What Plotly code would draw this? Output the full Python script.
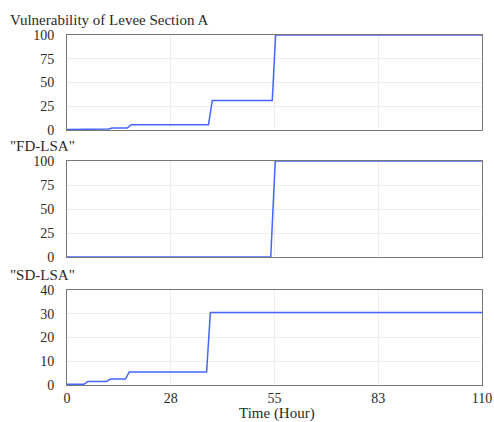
import plotly.graph_objects as go

# Vulnerability of Levee Section A
t_vuln = [0, 5, 6, 11, 12, 16, 17, 37.5, 38.5, 54.4, 55.3, 110]
v_vuln = [0.5, 0.5, 1, 1, 2, 2, 5.5, 5.5, 31, 31, 100, 100]
# "FD-LSA"
t_fd = [0, 54, 55.2, 110]
v_fd = [0, 0, 100, 100]
# "SD-LSA"
t_sd = [0, 4.5, 5.5, 10.5, 11.5, 15.5, 16.5, 37, 38, 110]
v_sd = [0.3, 0.3, 1.5, 1.5, 2.5, 2.5, 5.5, 5.5, 30.5, 30.5]

titles = ["Vulnerability of Levee Section A", "\"FD-LSA\"", "\"SD-LSA\""]
x_title = "Time (Hour)"
x_tickvals = [0, 27.5, 55, 82.5, 110]
x_ticktext = ["0", "28", "55", "83", "110"]
y_ticks_top = [0, 25, 50, 75, 100]
y_ticks_sd = [0, 10, 20, 30, 40]

W, H = 494, 422
font = "Liberation Serif, Times New Roman, serif"
line_color = "#4466ff"
txt = "#2a2a2a"


def px(x):
    return x / W


def py(y):
    return 1 - y / H


fig = go.Figure()
panels = [
    (t_vuln, v_vuln, (35, 130), [0, 100], y_ticks_top),
    (t_fd, v_fd, (161, 257), [0, 100], y_ticks_top),
    (t_sd, v_sd, (290, 385), [0, 40], y_ticks_sd),
]
xdom = [px(67), px(482)]
for i, (t, v, (top, bot), yr, yt) in enumerate(panels):
    n = "" if i == 0 else str(i + 1)
    fig.add_trace(go.Scatter(x=t, y=v, mode="lines", line=dict(color=line_color, width=1.5),
                             xaxis="x" + n, yaxis="y" + n, showlegend=False))
    ydom = [py(bot), py(top)]
    fig.update_layout(**{
        "xaxis" + n: dict(domain=xdom, range=[0, 110], anchor="y" + n, automargin=False,
                          tickvals=x_tickvals, ticktext=x_ticktext, ticklabeloverflow="allow",
                          showticklabels=(i == 2), showgrid=True, gridcolor="#ededed",
                          showline=True, mirror=True, linecolor="#777", linewidth=1,
                          zeroline=False, ticks="",
                          tickfont=dict(family=font, size=14, color=txt)),
        "yaxis" + n: dict(domain=ydom, range=yr, anchor="x" + n, tickvals=yt, automargin=False,
                          showgrid=True, gridcolor="#ededed",
                          showline=True, mirror=True, linecolor="#777", linewidth=1,
                          zeroline=False, ticks="", ticklabelstandoff=9,
                          tickfont=dict(family=font, size=14, color=txt)),
    })
    fig.add_annotation(text=titles[i], x=px(8), y=py(top - 15), xref="paper", yref="paper",
                       xanchor="left", yanchor="middle", showarrow=False,
                       font=dict(family=font, size=15, color=txt))

fig.add_annotation(text=x_title, x=px(277), y=py(413.5), xref="paper", yref="paper",
                   xanchor="center", yanchor="middle", showarrow=False,
                   font=dict(family=font, size=15, color=txt))

fig.update_layout(width=W, height=H, margin=dict(l=0, r=0, t=0, b=0, autoexpand=False),
                  paper_bgcolor="white", plot_bgcolor="white")
fig.write_html("out.html", config={"displayModeBar": False},
               post_script="document.body.style.margin='0px';document.body.style.overflow='hidden';")
